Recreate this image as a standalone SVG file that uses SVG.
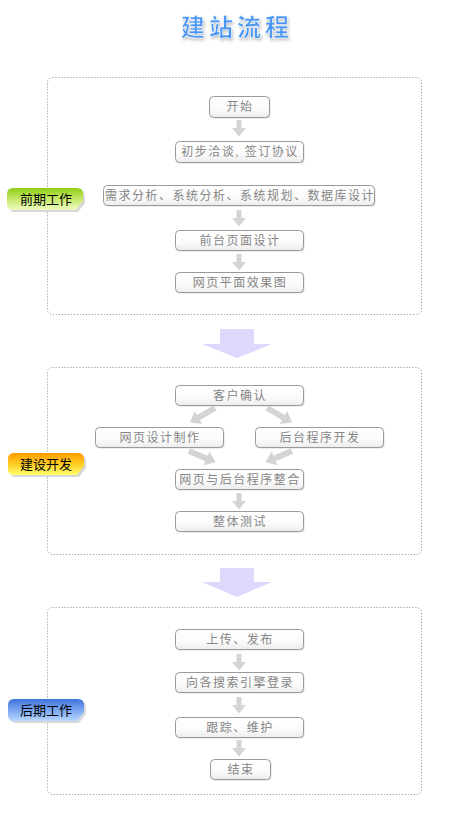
<svg xmlns="http://www.w3.org/2000/svg" xmlns:xlink="http://www.w3.org/1999/xlink" width="460" height="820" viewBox="0 0 460 820">
<style>
.panel{fill:none;stroke:#8a8a8a;stroke-width:1;stroke-dasharray:1 2}
.box{fill:url(#boxg);stroke:#9a9a9a;stroke-width:1}
.bshadow{fill:#dcdcdc}
.bt{font-family:"Liberation Sans","Noto Sans CJK SC",sans-serif;font-size:12px;fill:#858585;text-anchor:middle;letter-spacing:1.5px}
.tag{font-family:"Liberation Sans","Noto Sans CJK SC",sans-serif;font-size:13px;fill:#000;text-anchor:middle}
.sarr{fill:#d4d4d4}
.big{fill:#dcd9fc}
.tshadow{fill:#d8d8d8}
</style>
<defs>
<linearGradient id="boxg" x1="0" y1="0" x2="0" y2="1"><stop offset="0" stop-color="#ffffff"/><stop offset="0.6" stop-color="#fbfbfb"/><stop offset="1" stop-color="#ececec"/></linearGradient>
<linearGradient id="gg" x1="0" y1="0" x2="0" y2="1"><stop offset="0" stop-color="#8fcc14"/><stop offset="0.5" stop-color="#c5e86a"/><stop offset="1" stop-color="#effbc0"/></linearGradient>
<linearGradient id="og" x1="0" y1="0" x2="0" y2="1"><stop offset="0" stop-color="#ff9a00"/><stop offset="0.5" stop-color="#ffcc22"/><stop offset="1" stop-color="#ffff70"/></linearGradient>
<linearGradient id="blg" x1="0" y1="0" x2="0" y2="1"><stop offset="0" stop-color="#3f72dc"/><stop offset="0.5" stop-color="#7aa6f0"/><stop offset="1" stop-color="#b8d8ff"/></linearGradient>
<filter id="tglow" x="-20%" y="-40%" width="140%" height="180%"><feDropShadow dx="1" dy="2" stdDeviation="1.5" flood-color="#9a9a9a" flood-opacity="0.6"/></filter>
<path id="darr" d="M-2.5,0 h5 v8 h4.5 l-7,8.5 l-7,-8.5 h4.5 z"/>
<path id="dgarr" d="M-3,0 h6 v19 h4.5 l-7.5,10 l-7.5,-10 h4.5 z"/>
<path id="tagshape" d="M6,0 H70 Q76,0 76,6 V13 L69,22 H6 Q0,22 0,16 V6 Q0,0 6,0 Z"/>
</defs>

<g id="title">
<text x="237" y="36" font-family="'Noto Sans CJK SC','Liberation Sans',sans-serif" font-size="24" font-weight="bold" fill="#4a96f4" stroke="#ffffff" stroke-width="0.5" text-anchor="middle" letter-spacing="4" filter="url(#tglow)">建站流程</text>
</g>

<g id="panels">
<rect class="panel" x="47.5" y="77.5" width="374" height="237" rx="5"/>
<rect class="panel" x="47.5" y="367.5" width="374" height="187" rx="5"/>
<rect class="panel" x="47.5" y="607.5" width="374" height="187" rx="5"/>
</g>

<g id="connectors">
<use xlink:href="#darr" href="#darr" class="sarr" x="239" y="120"/>
<use xlink:href="#darr" href="#darr" class="sarr" x="239" y="210"/>
<use xlink:href="#darr" href="#darr" class="sarr" x="239" y="254"/>
<use xlink:href="#darr" href="#darr" class="sarr" x="239" y="493"/>
<use xlink:href="#darr" href="#darr" class="sarr" x="239" y="654"/>
<use xlink:href="#darr" href="#darr" class="sarr" x="239" y="697"/>
<use xlink:href="#darr" href="#darr" class="sarr" x="239" y="740"/>
<use xlink:href="#dgarr" href="#dgarr" class="sarr" transform="translate(215,408) rotate(60)"/>
<use xlink:href="#dgarr" href="#dgarr" class="sarr" transform="translate(267,408) rotate(-60)"/>
<use xlink:href="#dgarr" href="#dgarr" class="sarr" transform="translate(189,451) rotate(-67)"/>
<use xlink:href="#dgarr" href="#dgarr" class="sarr" transform="translate(292,451) rotate(67)"/>
<path class="big" d="M220,329 H254 V344 H272 L237,358 L202,344 H220 Z"/>
<path class="big" d="M220,568 H254 V582 H272 L237,597 L202,582 H220 Z"/>
</g>

<g id="n-start"><rect class="bshadow" x="210.5" y="97.5" width="60" height="21" rx="4"/><rect class="box" x="209.5" y="96.5" width="60" height="21" rx="4"/><text class="bt" x="240" y="111">开始</text></g>
<g id="n-talk"><rect class="bshadow" x="176.5" y="142.5" width="128" height="21" rx="4"/><rect class="box" x="175.5" y="141.5" width="128" height="21" rx="4"/><text class="bt" x="240" y="156">初步洽谈, 签订协议</text></g>
<g id="n-analysis"><rect class="bshadow" x="104.5" y="186.5" width="271" height="20" rx="4"/><rect class="box" x="103.5" y="185.5" width="271" height="20" rx="4"/><text class="bt" x="240" y="200" letter-spacing="1">需求分析、系统分析、系统规划、数据库设计</text></g>
<g id="n-front"><rect class="bshadow" x="176.5" y="231.5" width="128" height="20" rx="4"/><rect class="box" x="175.5" y="230.5" width="128" height="20" rx="4"/><text class="bt" x="240" y="245">前台页面设计</text></g>
<g id="n-mockup"><rect class="bshadow" x="176.5" y="273.5" width="128" height="20" rx="4"/><rect class="box" x="175.5" y="272.5" width="128" height="20" rx="4"/><text class="bt" x="240" y="287">网页平面效果图</text></g>

<g id="n-confirm"><rect class="bshadow" x="176.5" y="386.5" width="128" height="20" rx="4"/><rect class="box" x="175.5" y="385.5" width="128" height="20" rx="4"/><text class="bt" x="240" y="400">客户确认</text></g>
<g id="n-webdev"><rect class="bshadow" x="96.5" y="428.5" width="128" height="20" rx="4"/><rect class="box" x="95.5" y="427.5" width="128" height="20" rx="4"/><text class="bt" x="160" y="442">网页设计制作</text></g>
<g id="n-backend"><rect class="bshadow" x="256.5" y="428.5" width="128" height="20" rx="4"/><rect class="box" x="255.5" y="427.5" width="128" height="20" rx="4"/><text class="bt" x="320" y="442">后台程序开发</text></g>
<g id="n-integrate"><rect class="bshadow" x="176.5" y="470.5" width="128" height="20" rx="4"/><rect class="box" x="175.5" y="469.5" width="128" height="20" rx="4"/><text class="bt" x="240" y="484">网页与后台程序整合</text></g>
<g id="n-test"><rect class="bshadow" x="176.5" y="512.5" width="128" height="20" rx="4"/><rect class="box" x="175.5" y="511.5" width="128" height="20" rx="4"/><text class="bt" x="240" y="526">整体测试</text></g>

<g id="n-upload"><rect class="bshadow" x="176.5" y="630.5" width="128" height="20" rx="4"/><rect class="box" x="175.5" y="629.5" width="128" height="20" rx="4"/><text class="bt" x="240" y="644">上传、发布</text></g>
<g id="n-seo"><rect class="bshadow" x="176.5" y="673.5" width="128" height="20" rx="4"/><rect class="box" x="175.5" y="672.5" width="128" height="20" rx="4"/><text class="bt" x="240" y="687">向各搜索引擎登录</text></g>
<g id="n-track"><rect class="bshadow" x="176.5" y="718.5" width="128" height="20" rx="4"/><rect class="box" x="175.5" y="717.5" width="128" height="20" rx="4"/><text class="bt" x="240" y="732">跟踪、维护</text></g>
<g id="n-end"><rect class="bshadow" x="211.5" y="760.5" width="60" height="20" rx="4"/><rect class="box" x="210.5" y="759.5" width="60" height="20" rx="4"/><text class="bt" x="241" y="774">结束</text></g>

<g id="tag-early"><use xlink:href="#tagshape" href="#tagshape" class="tshadow" transform="translate(9,190)"/><use xlink:href="#tagshape" href="#tagshape" fill="url(#gg)" transform="translate(7,188)"/><text class="tag" x="46" y="204">前期工作</text></g>
<g id="tag-build"><use xlink:href="#tagshape" href="#tagshape" class="tshadow" transform="translate(10,455)"/><use xlink:href="#tagshape" href="#tagshape" fill="url(#og)" transform="translate(8,453)"/><text class="tag" x="46" y="469">建设开发</text></g>
<g id="tag-late"><use xlink:href="#tagshape" href="#tagshape" class="tshadow" transform="translate(10,701)"/><use xlink:href="#tagshape" href="#tagshape" fill="url(#blg)" transform="translate(8,699)"/><text class="tag" x="46" y="715">后期工作</text></g>
</svg>
